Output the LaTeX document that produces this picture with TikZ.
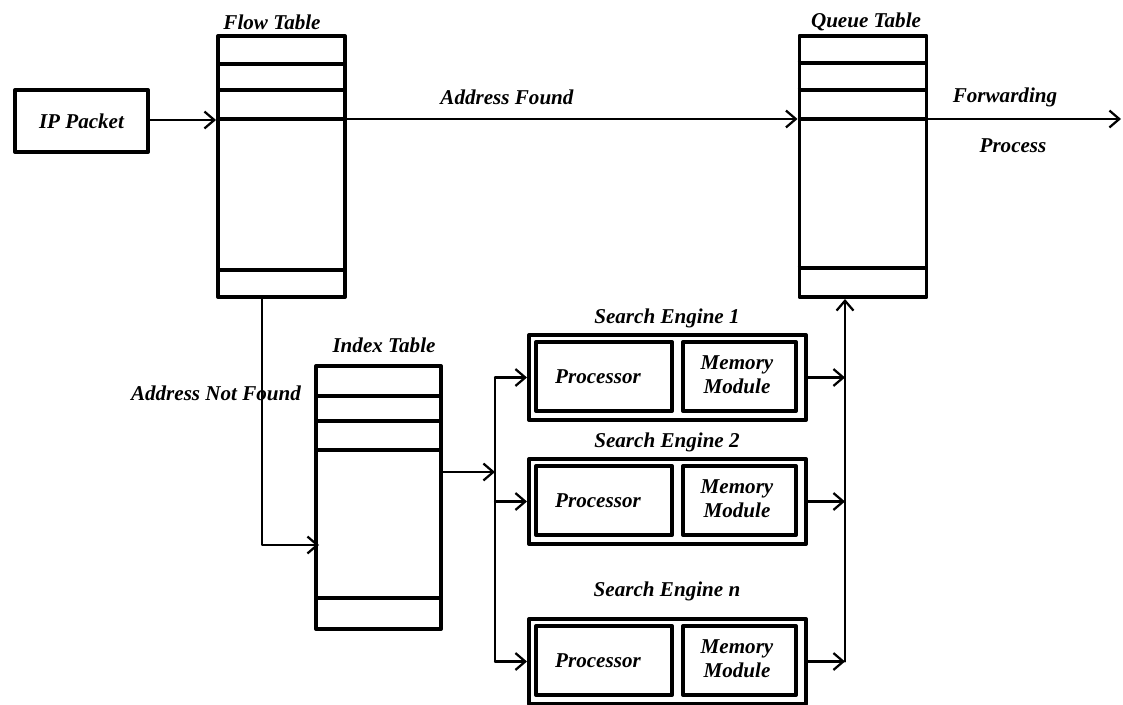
\documentclass[tikz,border=0pt]{standalone}
\usepackage{fontspec}
\setmainfont{Liberation Serif}
\usetikzlibrary{arrows.meta, positioning, calc}

\begin{document}
\begin{tikzpicture}[x=0.025cm, y=-0.025cm, line cap=round, line join=round,
    txt/.style={font=\fontsize{15pt}{17pt}\selectfont\bfseries\itshape, inner sep=0pt},
    box/.style={draw, line width=2.8pt, inner sep=0pt, fill=white},
    row/.style={line width=2.8pt, line cap=butt},
    conn/.style={line width=1.6pt, -{Straight Barb[length=7pt, width=12pt, line width=1.6pt]}},
    wire/.style={line width=1.6pt}]

  \useasboundingbox (0,0) rectangle (1123,704);

  % Packet in
  \node[box, minimum width=3.325cm, minimum height=1.55cm] (Pkt) at (81.5,121) {};
  \node[txt] (lblPkt) at (Pkt.center) {IP Packet};

  % Flow Table
  \node[box, minimum width=3.175cm, minimum height=6.525cm] (Flow) at (281.5,166.5) {};
  \node[txt] (lblFlow) at (272,22) {Flow Table};
  \foreach \r in {64,90,119,270}
    \draw[row] (Flow.west |- 0,\r) -- (Flow.east |- 0,\r);

  % Queue Table
  \node[box, minimum width=3.175cm, minimum height=6.525cm] (Queue) at (863,166.5) {};
  \node[txt] (lblQueue) at (866,22) {Queue Table};
  \foreach \r in {63,90,119,268}
    \draw[row] (Queue.west |- 0,\r) -- (Queue.east |- 0,\r);

  % Index Table
  \node[box, minimum width=3.125cm, minimum height=6.575cm] (Index) at (378.5,497.5) {};
  \node[txt] (lblIndex) at (384,345) {Index Table};
  \foreach \r in {396,421,450,598}
    \draw[row] (Index.west |- 0,\r) -- (Index.east |- 0,\r);

  % Search engines
  \foreach \n/\dy/\ly in {1/0/318, 2/124/442, n/284/591} {
    \node[box, minimum width=6.925cm, minimum height=2.125cm] (SE\n) at (667.5,377.5+\dy) {};
    \node[box, minimum width=3.4cm, minimum height=1.725cm] (Proc\n) at (604,376.5+\dy) {};
    \node[box, minimum width=2.825cm, minimum height=1.725cm] (Mem\n) at (739.5,376.5+\dy) {};
    \node[txt] (lblProc\n) at (598,377+\dy) {Processor};
    \node[txt, align=center] (lblMem\n) at (737,375+\dy) {Memory\\[0pt]Module};
    \node[txt] (lblSE\n) at (667,\ly) {Search Engine \n};
  }

  % Connectors
  \coordinate (fwd) at (1121,119);
  \coordinate (busIn) at (495,472);
  \coordinate (busOut) at (845,0);
  \coordinate (down) at (262,545);

  \draw[conn] (Pkt.east |- 0,120) -- (Flow.west |- 0,120);
  \draw[conn] (Flow.east |- 0,119) -- (Queue.west |- 0,119);
  \draw[conn] (Queue.east |- 0,119) -- (fwd);
  \draw[conn] (Flow.south -| down) -- (down) -- ($(Index.west |- down)+(5,0)$);
  \draw[conn] (Index.east |- busIn) -- (busIn);
  \draw[wire] (busIn |- SE1.west) -- (busIn |- SEn.west);
  \foreach \n in {1,2,n} {
    \draw[conn] (busIn |- SE\n.west) -- (SE\n.west);
    \draw[conn] (SE\n.east) -- (busOut |- SE\n.east);
  }
  \draw[conn] (busOut |- SEn.east) -- (busOut |- Queue.south);

  % Labels
  \node[txt] (lblFound) at (507,97) {Address Found};
  \node[txt] (lblNot) at (216,393) {Address Not Found};
  \node[txt] (lblFwd) at (1005,97) {Forwarding};
  \node[txt] (lblProcess) at (1013,146) {Process};
\end{tikzpicture}
\end{document}
